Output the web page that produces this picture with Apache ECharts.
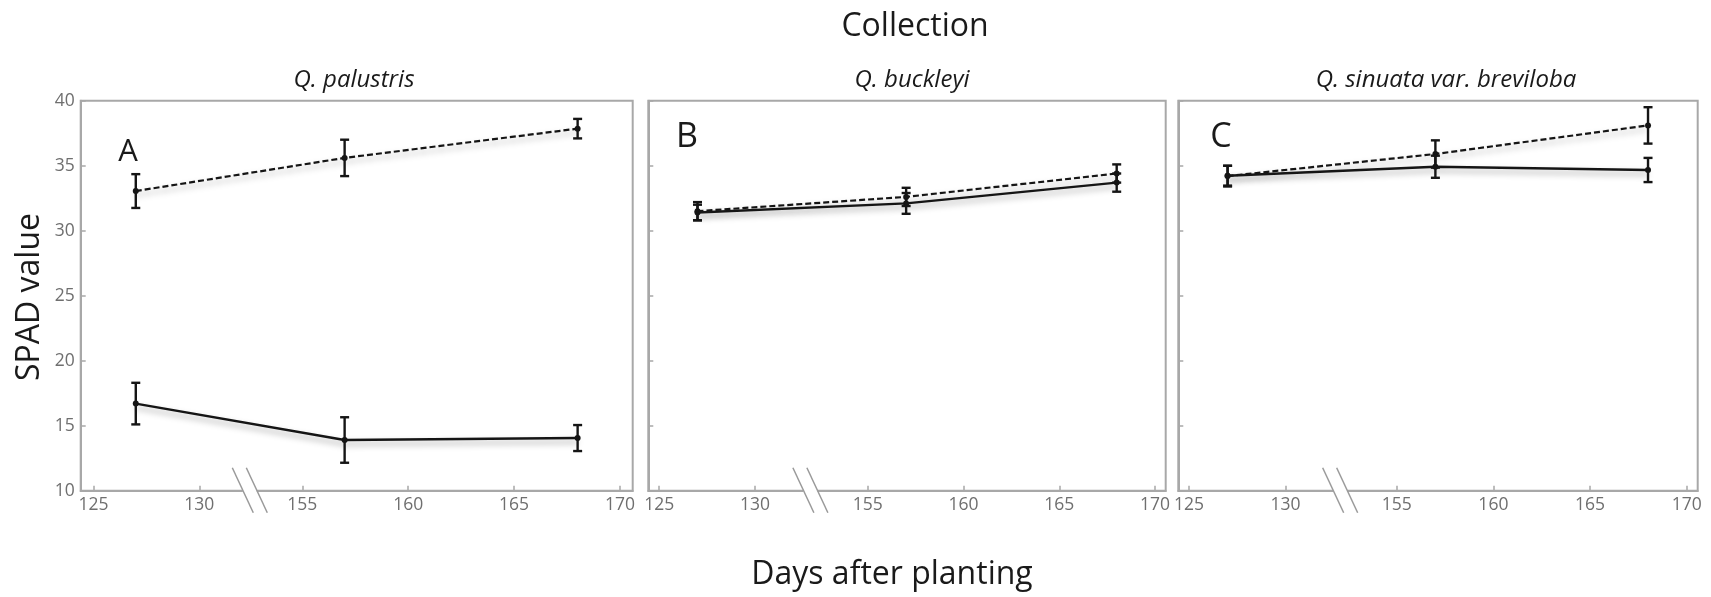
<!DOCTYPE html>
<html><head><meta charset="utf-8">
<script src="https://cdn.jsdelivr.net/npm/echarts@6/dist/echarts.min.js"></script>
<style>html,body{margin:0;padding:0;background:#fff}#c{width:1711px;height:597px}</style>
</head><body><div id="c"></div>
<script>
// ---- data ----
const days = [127, 157, 168];
const xTickDays = [125, 130, 155, 160, 165, 170];
const yTickMin = 10, yTickMax = 40, yTickStep = 5;
const panelTitles = ['Q. palustris', 'Q. buckleyi', 'Q. sinuata var. breviloba'];
const panelLetters = ['A', 'B', 'C'];
const palustrisDashed = [33.05, 35.6, 37.85];
const palustrisDashedErr = [1.3, 1.4, 0.75];
const palustrisSolid = [16.7, 13.9, 14.05];
const palustrisSolidErr = [1.6, 1.75, 1.0];
const buckleyiDashed = [31.5, 32.6, 34.4];
const buckleyiDashedErr = [0.7, 0.7, 0.7];
const buckleyiSolid = [31.4, 32.1, 33.7];
const buckleyiSolidErr = [0.6, 0.8, 0.7];
const brevilobaDashed = [34.2, 35.9, 38.1];
const brevilobaDashedErr = [0.8, 1.05, 1.4];
const brevilobaSolid = [34.23, 34.92, 34.67];
const brevilobaSolidErr = [0.76, 0.85, 0.93];
const topTitle = 'Collection';
const xTitle = 'Days after planting';
const yTitle = 'SPAD value';

// ---- layout (pixels / axis geometry) ----
const layout = [
  {left: 80.7,  width: 552,   min: 144.54, max: 170.6,  shift: 20.14, letterX: 128,  letterY: 152, letterSize: 31, titleX: 354},
  {left: 648.3, width: 517.4, min: 143.53, max: 170.56, shift: 19.1,  letterX: 687,  letterY: 137, letterSize: 34, titleX: 912},
  {left: 1178.3,width: 519.4, min: 143.7,  max: 170.57, shift: 19.25, letterX: 1221, letterY: 137, letterSize: 34, titleX: 1446}
];
const gridTop = 100.7, gridHeight = 390;
const panelData = [
  {dashed: palustrisDashed, dashedErr: palustrisDashedErr, solid: palustrisSolid, solidErr: palustrisSolidErr},
  {dashed: buckleyiDashed, dashedErr: buckleyiDashedErr, solid: buckleyiSolid, solidErr: buckleyiSolidErr},
  {dashed: brevilobaDashed, dashedErr: brevilobaDashedErr, solid: brevilobaSolid, solidErr: brevilobaSolidErr}
];

// broken axis: days up to 130 are shifted right so that the 130..155 gap is compressed
function toAxis(day, shift) { return day <= 140 ? day + shift : day; }
function fromAxis(v, shift) { return v < 152 ? Math.round(v - shift) : Math.round(v); }

const FRAME = '#a8a8a8';
const INK = '#151515';
const grids = [], xAxes = [], yAxes = [], series = [];

function errRender(params, api) {
  const x = api.value(0);
  const lo = api.coord([x, api.value(1)]);
  const hi = api.coord([x, api.value(2)]);
  const w = 4.5;
  const st = {stroke: INK, lineWidth: 2.4};
  return {type: 'group', children: [
    {type: 'line', shape: {x1: lo[0], y1: lo[1], x2: hi[0], y2: hi[1]}, style: st},
    {type: 'line', shape: {x1: lo[0] - w, y1: lo[1], x2: lo[0] + w, y2: lo[1]}, style: st},
    {type: 'line', shape: {x1: hi[0] - w, y1: hi[1], x2: hi[0] + w, y2: hi[1]}, style: st}
  ]};
}

layout.forEach((L, i) => {
  grids.push({left: L.left, top: gridTop, width: L.width, height: gridHeight, show: true,
    borderColor: FRAME, borderWidth: 2, backgroundColor: 'transparent', outerBoundsMode: 'none'});
  const tickU = xTickDays.map(d => toAxis(d, L.shift));
  xAxes.push({gridIndex: i, type: 'value', min: L.min, max: L.max,
    axisLine: {show: true, onZero: false, lineStyle: {color: FRAME, width: 2}},
    axisTick: {show: true, inside: true, length: 5, customValues: tickU, lineStyle: {color: FRAME, width: 1.5}},
    axisLabel: {show: true, customValues: tickU, margin: 5, color: '#6f6f6f', fontSize: 17.5, fontFamily: 'Open Sans',
      formatter: v => String(fromAxis(v, L.shift))},
    splitLine: {show: false}});
  yAxes.push({gridIndex: i, type: 'value', min: yTickMin, max: yTickMax, interval: yTickStep,
    axisLine: {show: true, lineStyle: {color: FRAME, width: 2}},
    axisTick: {show: true, inside: true, length: 5, lineStyle: {color: FRAME, width: 1.5}},
    axisLabel: {show: i === 0, margin: 6, color: '#6f6f6f', fontSize: 17.5, fontFamily: 'Open Sans'},
    splitLine: {show: false}});
  const P = panelData[i];
  const mk = (vals, errs, dashed) => {
    series.push({type: 'line', xAxisIndex: i, yAxisIndex: i, z: 3,
      data: days.map((d, k) => [toAxis(d, L.shift), vals[k]]),
      symbol: 'circle', symbolSize: 6, itemStyle: {color: INK},
      lineStyle: {color: INK, width: dashed ? 2.2 : 2.4, type: dashed ? [6, 3] : 'solid',
        shadowColor: 'rgba(0,0,0,0.35)', shadowBlur: 6, shadowOffsetY: 4},
      animation: false});
    series.push({type: 'custom', xAxisIndex: i, yAxisIndex: i, z: 4, renderItem: errRender,
      encode: {x: 0, y: [1, 2]},
      data: days.map((d, k) => [toAxis(d, L.shift), vals[k] - errs[k], vals[k] + errs[k]]),
      animation: false});
  };
  mk(P.dashed, P.dashedErr, true);
  mk(P.solid, P.solidErr, false);
});

const chart = echarts.init(document.getElementById('c'), null, {renderer: 'canvas'});
chart.setOption({animation: false, backgroundColor: '#fff', grid: grids, xAxis: xAxes, yAxis: yAxes, series: series});

// texts and axis-break marks
const gfx = [];
const txt = (text, x, y, size, opt) => Object.assign({type: 'text', x: x, y: y, z: 100,
  style: Object.assign({text: text, fontSize: size, fontFamily: 'Open Sans', fill: '#1a1a1a', align: 'center', verticalAlign: 'middle'}, opt && opt.style || {})},
  opt && opt.el || {});
gfx.push(txt(topTitle, 915, 27, 32));
gfx.push(txt(xTitle, 892, 575, 32));
gfx.push(txt(yTitle, 30, 297, 32, {el: {rotation: Math.PI / 2}}));
layout.forEach((L, i) => {
  gfx.push(txt(panelTitles[i], L.titleX, 80, 24, {style: {fontStyle: 'italic'}}));
  gfx.push(txt(panelLetters[i], L.letterX, L.letterY, L.letterSize));
  const cx = chart.convertToPixel({xAxisIndex: i}, (toAxis(130, L.shift) + 155) / 2) - 1;
  const ay = chart.convertToPixel({yAxisIndex: i}, yTickMin);
  gfx.push({type: 'rect', z: 100, shape: {x: cx - 7, y: ay - 2.5, width: 14, height: 5}, style: {fill: '#fff'}});
  [-7, 7].forEach(off => {
    gfx.push({type: 'line', z: 101, shape: {x1: cx + off - 10.5, y1: ay - 23, x2: cx + off + 10.5, y2: ay + 22},
      style: {stroke: '#9a9a9a', lineWidth: 1.5}});
  });
});
chart.setOption({graphic: gfx});
</script>
</body></html>
